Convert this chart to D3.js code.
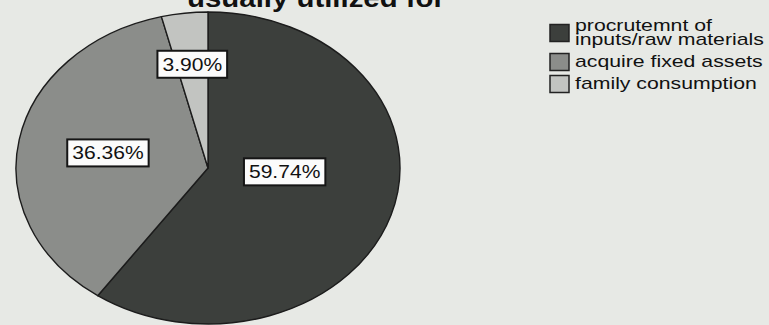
<!DOCTYPE html>
<html>
<head>
<meta charset="utf-8">
<script src="https://cdn.jsdelivr.net/npm/d3@7"></script>
<style>
  html, body { margin: 0; padding: 0; background: #e7e9e5; }
  svg { display: block; font-family: Arial, "Liberation Sans", sans-serif; }
</style>
</head>
<body>
<svg id="chart" width="769" height="325"></svg>
<script>
// data
const categories = ['procrutemnt of inputs/raw materials', 'acquire fixed assets', 'family consumption'];
const legendLines = [['procrutemnt of', 'inputs/raw materials'], ['acquire fixed assets'], ['family consumption']];
const values = [59.74, 36.36, 3.90];
const labels = ['59.74%', '36.36%', '3.90%'];
const title = 'usually utilized for';

// styles
const colors = ['#3c3f3c', '#8b8d8a', '#c2c4c1'];
const labelRadius = [0.40, 0.53, 0.67];
const labelAngleShift = [-14, 0, 0];

const svg = d3.select('#chart');
const width = 769;

// pie geometry (drawn as a circle, stretched into an ellipse)
const cx = 208, cy = 168, rx = 192, ry = 156;
const sx = rx / ry;

// title, mostly cut off at the top of the picture
svg.append('text')
  .attr('transform', 'translate(316,7) scale(1.13,1)')
  .attr('text-anchor', 'middle')
  .attr('font-size', 26)
  .attr('font-weight', 'bold')
  .attr('fill', '#111')
  .text(title);

const pie = d3.pie().sort(null).value((d) => d);
const arcs = pie(values);
const arc = d3.arc().innerRadius(0).outerRadius(ry);

const grp = svg.append('g')
  .attr('transform', `translate(${cx},${cy}) scale(${sx},1)`);

grp.selectAll('path.slice')
  .data(arcs)
  .enter()
  .append('path')
  .attr('class', 'slice')
  .attr('d', arc)
  .attr('fill', (d, i) => colors[i])
  .attr('stroke', '#1c1c1c')
  .attr('stroke-width', 1.4)
  .attr('vector-effect', 'non-scaling-stroke')
  .attr('stroke-linejoin', 'round');

// value labels in white boxes
const lbl = svg.append('g');
arcs.forEach((d, i) => {
  const a = (d.startAngle + d.endAngle) / 2 + labelAngleShift[i] * Math.PI / 180;
  const x = cx + Math.sin(a) * rx * labelRadius[i];
  const y = cy - Math.cos(a) * ry * labelRadius[i];
  const g = lbl.append('g').attr('transform', `translate(${x},${y})`);
  const rect = g.append('rect');
  const t = g.append('text')
    .attr('transform', 'scale(1.17,1)')
    .attr('text-anchor', 'middle')
    .attr('dy', '0.36em')
    .attr('font-size', 18)
    .attr('fill', '#111')
    .text(labels[i]);
  const w = t.node().getBBox().width * 1.17 + 10;
  const h = 27;
  rect.attr('x', -w / 2).attr('y', -h / 2)
    .attr('width', w).attr('height', h)
    .attr('fill', '#fbfbfb')
    .attr('stroke', '#151515')
    .attr('stroke-width', 2);
});

// legend
const legend = svg.append('g');
const legX = 550, textX = 575, lineH = 14, entryGap = 8;
let base = 31;
legendLines.forEach((lines, i) => {
  const first = base;
  const last = base + (lines.length - 1) * lineH;
  const mid = (first + last) / 2 - 5;
  legend.append('rect')
    .attr('x', legX)
    .attr('y', mid - 8.5)
    .attr('width', 19)
    .attr('height', 17)
    .attr('fill', colors[i])
    .attr('stroke', '#222')
    .attr('stroke-width', 1.5);
  lines.forEach((ln, j) => {
    legend.append('text')
      .attr('transform', `translate(${textX},${base + j * lineH}) scale(1.25,1)`)
      .attr('font-size', 17)
      .attr('fill', '#111')
      .text(ln);
  });
  base = last + lineH + entryGap;
});
</script>
</body>
</html>
